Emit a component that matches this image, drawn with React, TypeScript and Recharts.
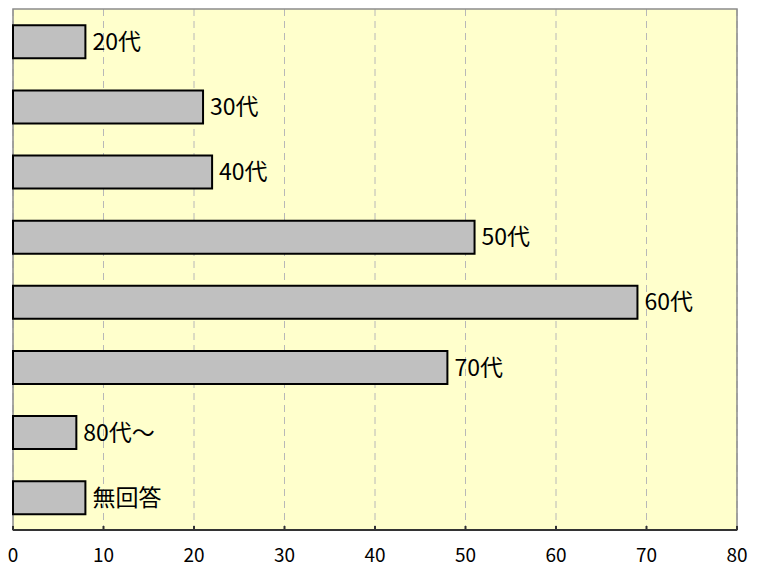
import { BarChart, Bar, XAxis, YAxis, CartesianGrid, LabelList, ReferenceArea } from 'recharts';

const ageGroups = ['20代', '30代', '40代', '50代', '60代', '70代', '80代～', '無回答'];
const counts = [8, 21, 22, 51, 69, 48, 7, 8];
const xTicks = [0, 10, 20, 30, 40, 50, 60, 70, 80];

const data = ageGroups.map((name, i) => ({ name, value: counts[i] }));

const FONT = "'Noto Sans CJK JP', sans-serif";

export default function App() {
    return (
        <div style={{ position: 'absolute', left: 0, top: 0, width: 758, height: 569, background: '#fff' }}>
            <BarChart
                width={758}
                height={569}
                data={data}
                layout="vertical"
                barCategoryGap="25%"
                margin={{ top: 9, right: 21, left: 13, bottom: 0 }}
            >
                <CartesianGrid
                    fill="#ffffcc"
                    horizontal={false}
                    stroke="#b8b8b8"
                    strokeDasharray="7 5"
                />
                <ReferenceArea x1={0} x2={80} fill="none" stroke="#8c8c8c" strokeWidth={1.5} ifOverflow="visible" />
                <XAxis
                    type="number"
                    domain={[0, 80]}
                    ticks={xTicks}
                    height={39}
                    stroke="#333"
                    strokeWidth={2}
                    tickSize={-4}
                    tickMargin={23}
                    tick={{ fill: '#000', fontSize: 19, fontFamily: FONT }}
                    interval={0}
                />
                <YAxis type="category" dataKey="name" hide />
                <Bar dataKey="value" fill="#c0c0c0" stroke="#000" strokeWidth={2} isAnimationActive={false}>
                    <LabelList
                        dataKey="name"
                        position="right"
                        offset={7}
                        fill="#000"
                        fontSize={23}
                        fontFamily={FONT}
                    />
                </Bar>
            </BarChart>
        </div>
    );
}
